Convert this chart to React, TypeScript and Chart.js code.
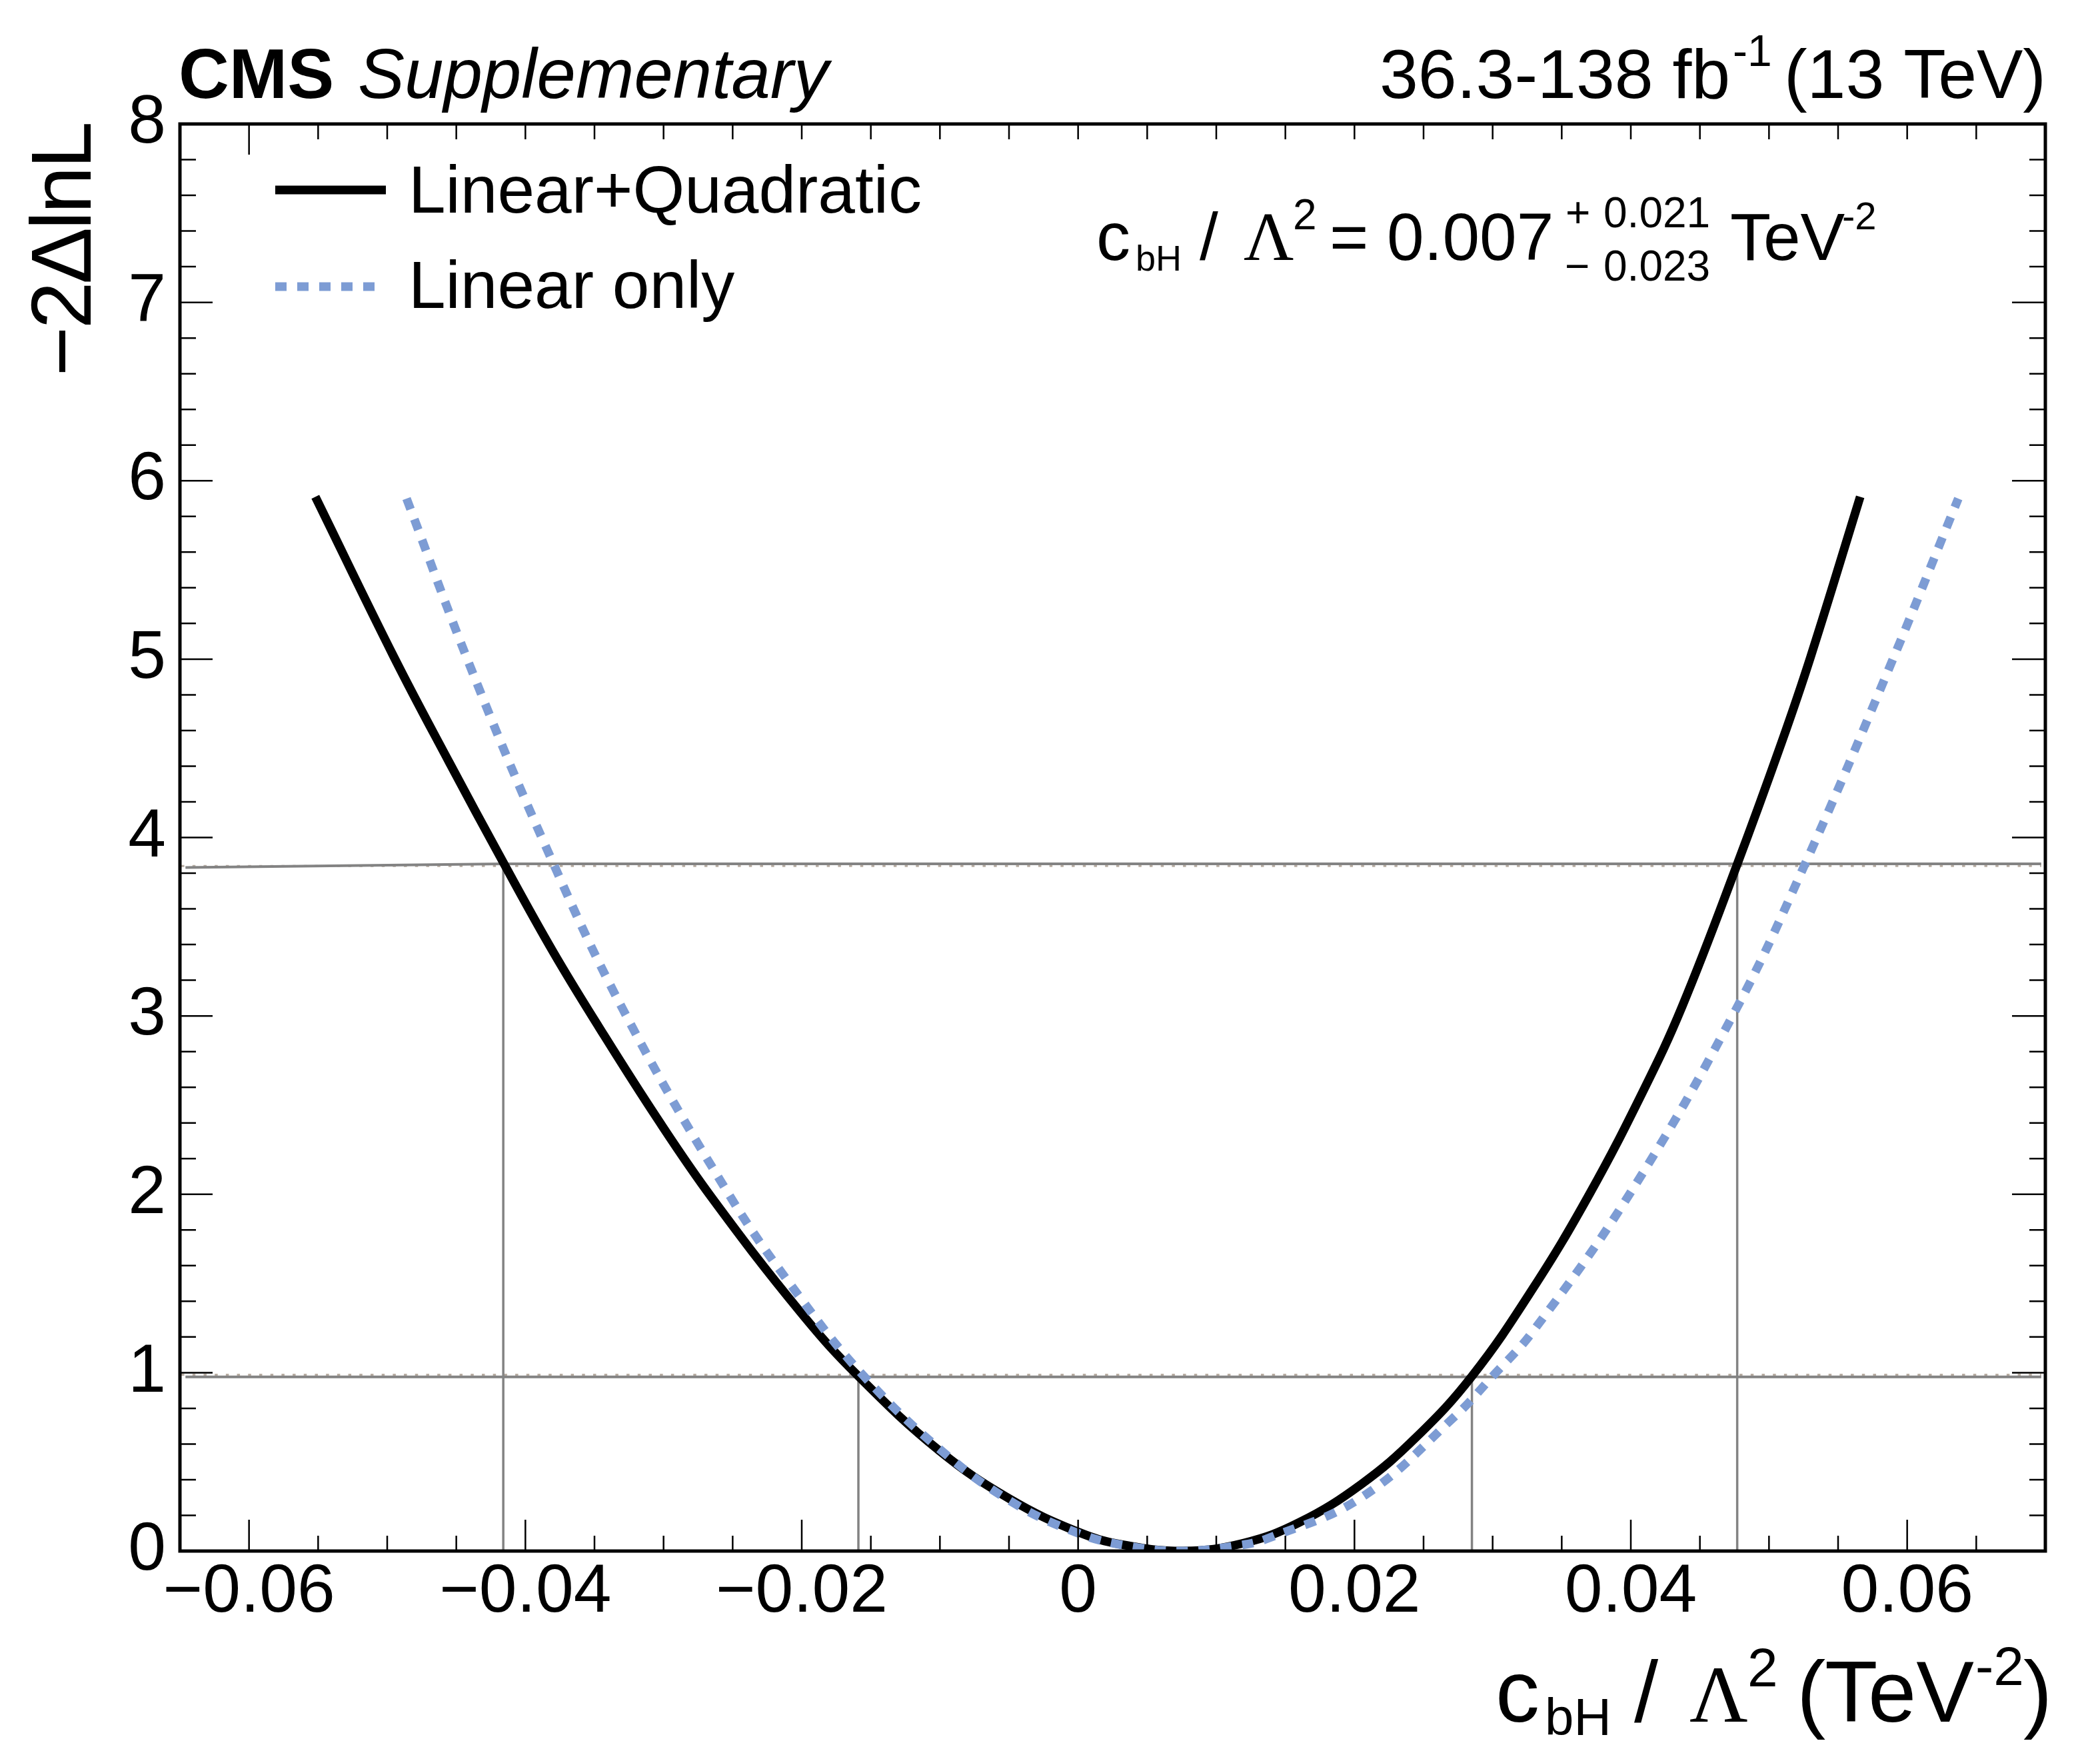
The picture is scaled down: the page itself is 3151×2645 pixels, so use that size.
import React, { useEffect, useRef } from "react";
import { Chart, registerables } from "chart.js";

Chart.register(...registerables);

// ---------------- data ----------------
// Linear+Quadratic  (-2 Delta lnL vs c_bH / Lambda^2)
const linQuadX = [-0.0552, -0.0495, -0.0455, -0.0416, -0.0380, -0.0347, -0.0305, -0.0265, -0.0201, -0.0159, -0.0100, -0.0049, 0.0000, 0.0032, 0.0076, 0.0120, 0.0160, 0.0205, 0.0245, 0.0285, 0.0329, 0.0370, 0.0409, 0.0437, 0.0477, 0.0509, 0.0530, 0.0566];
const linQuadY = [5.91, 5.01, 4.42, 3.86, 3.36, 2.94, 2.43, 1.98, 1.34, 0.98, 0.56, 0.29, 0.107, 0.036, 0.00, 0.045, 0.16, 0.375, 0.64, 0.98, 1.47, 2.00, 2.58, 3.05, 3.85, 4.53, 5.01, 5.91];

// Linear only
const linOnlyX = [-0.0486, -0.0440, -0.0387, -0.0329, -0.0252, -0.0201, -0.0155, -0.0100, -0.0049, 0.0000, 0.0035, 0.0075, 0.0115, 0.0137, 0.0205, 0.0272, 0.0300, 0.0329, 0.0399, 0.0475, 0.0526, 0.0587, 0.0637];
const linOnlyY = [5.90, 4.96, 3.98, 3.03, 1.99, 1.42, 0.98, 0.57, 0.28, 0.10, 0.03, 0.00, 0.03, 0.07, 0.30, 0.75, 0.98, 1.23, 2.00, 3.02, 3.85, 4.95, 5.90];

// reference levels and interval lines
const upperLevelX = [-0.0646, -0.0416, 0.0697];
const upperLevelY = [3.832, 3.852, 3.852];
const lowerLevelX = [-0.0646, 0.0697];
const lowerLevelY = [0.976, 0.976];
const dottedLevelX = [-0.0649, 0.0697];
const dottedLevelY = [3.84, 0.988];
const crossingX = [-0.0416, -0.0159, 0.0285, 0.0477];
const crossingY = [3.852, 0.976, 0.976, 3.852];

// axes
const xRange = [-0.065, 0.07];
const yRange = [0, 8];
const xTickValues = [-0.06, -0.04, -0.02, 0, 0.02, 0.04, 0.06];
const xTickLabels = ["\u22120.06", "\u22120.04", "\u22120.02", "0", "0.02", "0.04", "0.06"];
const yTickValues = [0, 1, 2, 3, 4, 5, 6, 7, 8];
const yTickLabels = ["0", "1", "2", "3", "4", "5", "6", "7", "8"];

const legendLabels = ["Linear+Quadratic", "Linear only"];

// ---------------- styling ----------------
const SANS = "'Liberation Sans', Arial, Helvetica, sans-serif";
const SERIF = "'Liberation Serif', 'Times New Roman', serif";
const BLUE = "#7d9cd4";
const GRAY = "#838383";
const TAN = "#b8ada2";

function pts(xs: number[], ys: number[]) {
  return xs.map((x, i) => ({ x, y: ys[i] }));
}

function labelFor(v: number, values: number[], labels: string[]) {
  const i = values.findIndex((t) => Math.abs(t - v) < 1e-9);
  return i >= 0 ? labels[i] : "";
}

function drawText(
  ctx: CanvasRenderingContext2D,
  s: string,
  x: number,
  y: number,
  size: number,
  o: { weight?: string; style?: string; family?: string; align?: CanvasTextAlign } = {}
) {
  ctx.font = `${o.style ?? "normal"} ${o.weight ?? "normal"} ${size}px ${o.family ?? SANS}`;
  ctx.textAlign = o.align ?? "left";
  ctx.textBaseline = "alphabetic";
  ctx.fillText(s, x, y);
}

const decorPlugin = {
  id: "cmsDecor",
  afterDatasetsDraw(chart: any) {
    const ctx: CanvasRenderingContext2D = chart.ctx;
    const { left, right, top, bottom } = chart.chartArea;
    const xs = chart.scales.x;
    const ys = chart.scales.y;
    ctx.save();
    ctx.strokeStyle = "#000";
    ctx.lineCap = "butt";
    ctx.lineWidth = 2.5;
    ctx.beginPath();
    for (let k = -13; k <= 14; k++) {
      const px = xs.getPixelForValue(k * 0.005);
      const major = k % 4 === 0;
      ctx.moveTo(px, bottom);
      ctx.lineTo(px, bottom - (major ? 47 : 23));
      ctx.moveTo(px, top);
      ctx.lineTo(px, top + (k === -12 ? 46 : 23));
    }
    for (let k = 1; k < 40; k++) {
      const py = ys.getPixelForValue(k * 0.2);
      const major = k % 5 === 0;
      ctx.moveTo(left, py);
      ctx.lineTo(left + (major ? 49 : 24), py);
      ctx.moveTo(right, py);
      ctx.lineTo(right - (major ? 50 : 24), py);
    }
    ctx.stroke();
    ctx.lineWidth = 5;
    ctx.strokeRect(left, top, right - left, bottom - top);
    ctx.restore();
  },
  afterDraw(chart: any) {
    const ctx: CanvasRenderingContext2D = chart.ctx;
    ctx.save();
    ctx.fillStyle = "#000";

    // CMS Supplementary
    drawText(ctx, "CMS", 268, 147, 105, { weight: "bold" });
    drawText(ctx, "Supplementary", 537, 147, 105, { style: "italic" });

    // luminosity
    drawText(ctx, "36.3-138 fb", 2070, 147, 104);
    drawText(ctx, "-1", 2600, 99, 66);
    drawText(ctx, "(13 TeV)", 3070, 147, 104, { align: "right" });

    // best-fit annotation
    drawText(ctx, "c", 1645, 390, 102);
    drawText(ctx, "bH", 1704, 406, 54);
    drawText(ctx, "/", 1800, 390, 100);
    drawText(ctx, "\u039B", 1866, 390, 104, { family: SERIF });
    drawText(ctx, "2", 1940, 344, 64);
    drawText(ctx, "=", 1995, 390, 100);
    drawText(ctx, "0.007", 2081, 390, 100);
    drawText(ctx, "+", 2349, 341, 64);
    drawText(ctx, "0.021", 2406, 341, 64);
    drawText(ctx, "\u2212", 2348, 421, 64);
    drawText(ctx, "0.023", 2406, 421, 64);
    drawText(ctx, "TeV", 2596, 390, 100);
    drawText(ctx, "-2", 2764, 344, 58);

    // x-axis title
    drawText(ctx, "c", 2244, 2583, 132);
    drawText(ctx, "bH", 2318, 2603, 78);
    drawText(ctx, "/", 2452, 2583, 130);
    drawText(ctx, "\u039B", 2535, 2583, 121, { family: SERIF });
    drawText(ctx, "2", 2622, 2530, 82);
    drawText(ctx, "(", 2696, 2583, 130);
    drawText(ctx, "TeV", 2738, 2583, 130);
    drawText(ctx, "-2", 2964, 2528, 82);
    drawText(ctx, ")", 3036, 2583, 130);

    // y-axis title (rotated)
    ctx.save();
    ctx.translate(136, 186);
    ctx.rotate(-Math.PI / 2);
    try {
      (ctx as any).letterSpacing = "-4px";
    } catch (e) {
      /* ignore */
    }
    drawText(ctx, "\u22122\u0394lnL", 0, 0, 128, { align: "right" });
    try {
      (ctx as any).letterSpacing = "0px";
    } catch (e) {
      /* ignore */
    }
    ctx.restore();

    // legend
    ctx.lineCap = "butt";
    ctx.lineWidth = 13;
    ctx.strokeStyle = "#000";
    ctx.setLineDash([]);
    ctx.beginPath();
    ctx.moveTo(413, 285);
    ctx.lineTo(579, 285);
    ctx.stroke();
    ctx.strokeStyle = BLUE;
    ctx.setLineDash([17, 16]);
    ctx.beginPath();
    ctx.moveTo(413, 430);
    ctx.lineTo(563, 430);
    ctx.stroke();
    ctx.setLineDash([]);
    drawText(ctx, legendLabels[0], 613, 319, 100);
    drawText(ctx, legendLabels[1], 613, 462, 100);

    ctx.restore();
  },
};

export default function App() {
  const ref = useRef<HTMLCanvasElement | null>(null);

  useEffect(() => {
    const canvas = ref.current;
    if (!canvas) return;

    const grayLine = (data: { x: number; y: number }[], width: number) => ({
      data,
      borderColor: GRAY,
      borderWidth: width,
      pointRadius: 0,
      fill: false,
      tension: 0,
      order: 3,
    });

    const datasets: any[] = [
      {
        label: legendLabels[1],
        data: pts(linOnlyX, linOnlyY),
        borderColor: BLUE,
        borderWidth: 13,
        borderDash: [17, 16],
        borderCapStyle: "butt",
        pointRadius: 0,
        fill: false,
        tension: 0.4,
        order: 0,
      },
      {
        label: legendLabels[0],
        data: pts(linQuadX, linQuadY),
        borderColor: "#000",
        borderWidth: 13,
        borderCapStyle: "butt",
        pointRadius: 0,
        fill: false,
        tension: 0.4,
        order: 1,
      },
      grayLine(pts(upperLevelX, upperLevelY), 4),
      grayLine(pts(lowerLevelX, lowerLevelY), 4),
      ...crossingX.map((cx, i) => grayLine([{ x: cx, y: 0 }, { x: cx, y: crossingY[i] }], 3.5)),
      ...dottedLevelY.map((ly) => ({
        data: dottedLevelX.map((dx) => ({ x: dx, y: ly })),
        borderColor: TAN,
        borderWidth: 3,
        borderDash: [4.5, 12.2],
        pointRadius: 0,
        fill: false,
        tension: 0,
        order: 4,
      })),
    ];

    const tickFont = { family: SANS, size: 102 };

    const chart = new Chart(canvas, {
      type: "line",
      data: { datasets },
      options: {
        animation: false,
        responsive: true,
        maintainAspectRatio: false,
        events: [],
        layout: { padding: { top: 186, right: 82, left: 0, bottom: 0 } },
        plugins: {
          legend: { display: false },
          tooltip: { enabled: false },
          title: { display: false },
        },
        scales: {
          x: {
            type: "linear",
            min: xRange[0],
            max: xRange[1],
            afterBuildTicks: (s: any) => {
              s.ticks = xTickValues.map((v) => ({ value: v }));
            },
            afterFit: (s: any) => {
              s.height = 318;
            },
            grid: { display: false, drawTicks: false },
            border: { display: false },
            ticks: {
              autoSkip: false,
              maxRotation: 0,
              minRotation: 0,
              padding: 2,
              color: "#000",
              font: tickFont,
              callback: (v: any) => labelFor(Number(v), xTickValues, xTickLabels),
            },
          },
          y: {
            type: "linear",
            min: yRange[0],
            max: yRange[1],
            afterBuildTicks: (s: any) => {
              s.ticks = yTickValues.map((v) => ({ value: v }));
            },
            afterFit: (s: any) => {
              s.width = 270;
            },
            grid: { display: false, drawTicks: false },
            border: { display: false },
            ticks: {
              autoSkip: false,
              padding: 21,
              color: "#000",
              font: tickFont,
              callback: (v: any) => labelFor(Number(v), yTickValues, yTickLabels),
            },
          },
        },
      } as any,
      plugins: [decorPlugin as any],
    });

    return () => chart.destroy();
  }, []);

  return (
    <div
      style={{
        position: "fixed",
        left: 0,
        top: 0,
        width: 3151,
        height: 2645,
        background: "#fff",
      }}
    >
      <canvas ref={ref} style={{ display: "block" }} />
    </div>
  );
}
